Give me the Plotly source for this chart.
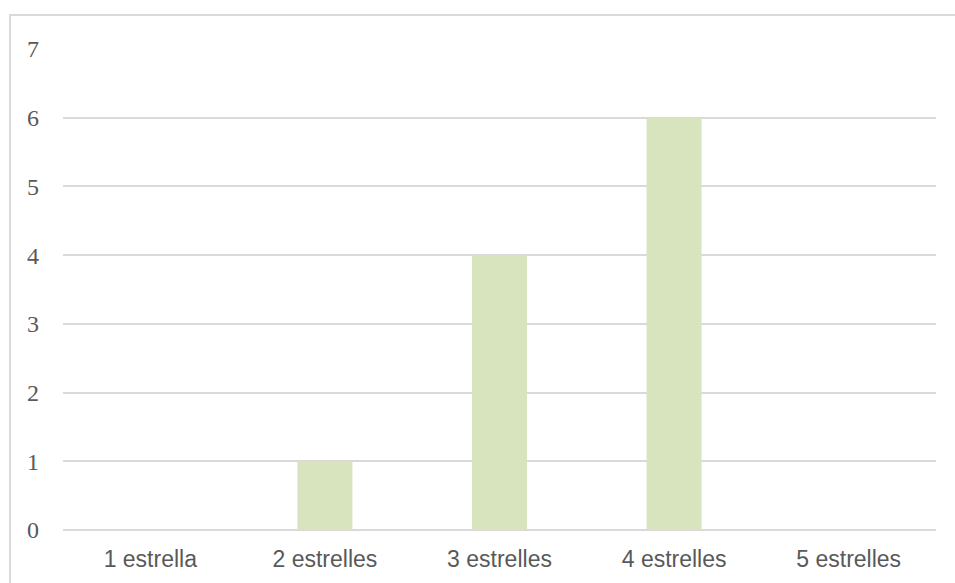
import plotly.graph_objects as go

categories = ["1 estrella", "2 estrelles", "3 estrelles", "4 estrelles", "5 estrelles"]
counts = [0, 1, 4, 6, 0]
y_ticks = [0, 1, 2, 3, 4, 5, 6, 7]

fig = go.Figure(
    go.Bar(
        x=categories,
        y=counts,
        marker=dict(color="#d7e4bd", line=dict(width=0)),
        hoverinfo="x+y",
    )
)

fig.update_layout(
    width=955,
    height=583,
    margin=dict(l=63, r=19, t=49, b=53),
    paper_bgcolor="white",
    plot_bgcolor="white",
    bargap=0.685,
    showlegend=False,
    xaxis=dict(
        showgrid=False,
        showline=False,
        ticks="",
        tickfont=dict(family="Liberation Sans, Arial", size=23, color="#595959"),
        ticklabelstandoff=13,
    ),
    yaxis=dict(
        range=[0, 7],
        tickvals=y_ticks,
        showgrid=True,
        gridcolor="#d9d9d9",
        gridwidth=1.5,
        zeroline=True,
        zerolinecolor="#d9d9d9",
        zerolinewidth=1.5,
        showline=False,
        ticks="",
        tickfont=dict(family="Liberation Serif, Cambria, serif", size=24, color="#595959"),
        ticklabelstandoff=23,
    ),
    shapes=[
        dict(
            type="rect",
            xref="paper",
            yref="paper",
            x0=-0.0607,
            x1=1.025,
            y0=-0.13,
            y1=1.0707,
            line=dict(color="#d9d9d9", width=2),
            fillcolor="rgba(0,0,0,0)",
            layer="below",
        )
    ],
)

fig.write_html("out.html")
